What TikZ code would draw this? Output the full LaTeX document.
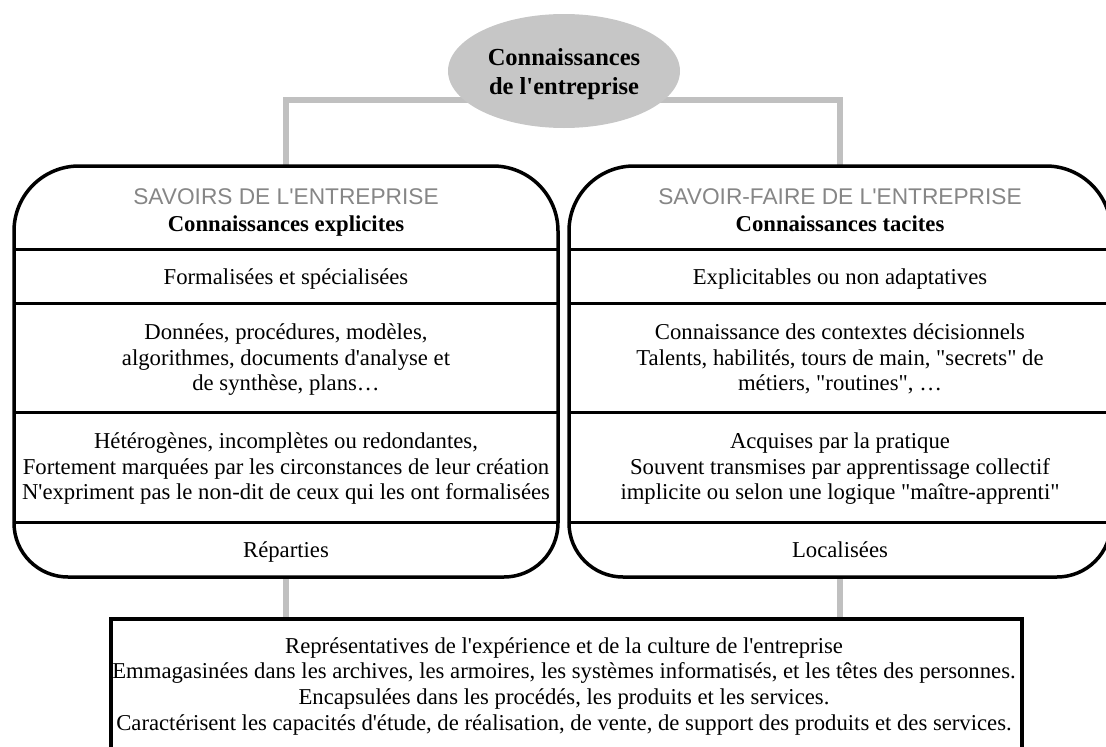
\documentclass[tikz,border=0pt]{standalone}
\usepackage{fontspec}
\setmainfont{Liberation Serif}
\newfontfamily\hdrfont{Liberation Sans}
\usetikzlibrary{shapes.geometric}
\definecolor{conn}{HTML}{C0C0C0}
\definecolor{ellfill}{HTML}{C6C6C6}
\definecolor{hdrgray}{HTML}{868686}
\newcommand\apo{\textquotesingle}
\newcommand\dqt{\textquotedbl}
\begin{document}
\begin{tikzpicture}[x=1pt,y=-1pt,
  boxline/.style={line width=3.5pt, black},
  divline/.style={line width=3pt, black},
  link/.style={line width=6pt, conn},
  txt/.style={inner sep=0pt, align=center, font=\fontsize{22.7}{25.7}\selectfont},
  hdr/.style={inner sep=0pt, font=\hdrfont\fontsize{22.7}{25.7}\selectfont, text=hdrgray},
  bold/.style={inner sep=0pt, font=\bfseries\fontsize{22.7}{25.7}\selectfont},
]
\useasboundingbox (0,0) rectangle (1106,747);

% coordinates
\coordinate (hub) at (564,100);
\coordinate (Ltop) at (286,166);
\coordinate (Rtop) at (840,166);
\coordinate (Lbot) at (286,577);
\coordinate (Rbot) at (840,577);

% bottom box
\node[draw, line width=3.5pt, minimum width=911pt, minimum height=150pt, inner sep=0pt, anchor=north west] (bbox) at (109,617) {};

% links
\draw[link] (Ltop) |- (hub) -| (Rtop);
\draw[link] (Lbot) -- (Lbot |- bbox.north);
\draw[link] (Rbot) -- (Rbot |- bbox.north);

% left box
\draw[boxline, rounded corners=65pt] (14,522) -- (14,166) -- (558,166) -- (558,522);
\draw[boxline, rounded corners=54pt] (14,522) -- (14,577) -- (558,577) -- (558,522);
\draw[divline] (14,249) -- (558,249);
\draw[divline] (14,303) -- (558,303);
\draw[divline] (14,412) -- (558,412);
\draw[divline] (14,522) -- (558,522);

% right box
\draw[boxline, rounded corners=65pt] (569,522) -- (569,166) -- (1111,166) -- (1111,522);
\draw[boxline, rounded corners=54pt] (569,522) -- (569,577) -- (1111,577) -- (1111,522);
\draw[divline] (569,249) -- (1111,249);
\draw[divline] (569,303) -- (1111,303);
\draw[divline] (569,412) -- (1111,412);
\draw[divline] (569,522) -- (1111,522);

% root
\node[ellipse, fill=ellfill, minimum width=232pt, minimum height=114pt, inner sep=0pt] (root) at (564,71) {};
\node[inner sep=0pt, align=center, font=\bfseries\fontsize{24.5}{29}\selectfont] (roottxt) at (564,74) {\strut Connaissances\\de l\apo entreprise\strut};

% left texts
\node[hdr] (lh) at (286,199) {\strut SAVOIRS DE L\apo ENTREPRISE};
\node[bold] (lb) at (286,226) {\strut Connaissances explicites};
\node[txt] (l1) at (286,279) {\strut Formalisées et spécialisées};
\node[txt] (l2) at (286,360) {\strut Données, procédures, modèles,\\algorithmes, documents d\apo analyse et\\de synthèse, plans…\strut};
\node[txt] (l3) at (286,469) {\strut Hétérogènes, incomplètes ou redondantes,\\Fortement marquées par les circonstances de leur création\\N\apo expriment pas le non-dit de ceux qui les ont formalisées\strut};
\node[txt] (l4) at (286,552) {\strut Réparties};

% right texts
\node[hdr] (rh) at (840,199) {\strut SAVOIR-FAIRE DE L\apo ENTREPRISE};
\node[bold] (rb) at (840,226) {\strut Connaissances tacites};
\node[txt] (r1) at (840,279) {\strut Explicitables ou non adaptatives};
\node[txt] (r2) at (840,360) {\strut Connaissance des contextes décisionnels\\Talents, habilités, tours de main, \dqt secrets\dqt{} de\\métiers, \dqt routines\dqt , …\strut};
\node[txt] (r3) at (840,469) {\strut Acquises par la pratique\\Souvent transmises par apprentissage collectif\\implicite ou selon une logique \dqt maître-apprenti\dqt\strut};
\node[txt] (r4) at (840,552) {\strut Localisées};

% bottom text
\node[txt] (bt) at (564,686.5) {\strut Représentatives de l\apo expérience et de la culture de l\apo entreprise\\Emmagasinées dans les archives, les armoires, les systèmes informatisés, et les têtes des personnes.\\Encapsulées dans les procédés, les produits et les services.\\Caractérisent les capacités d\apo étude, de réalisation, de vente, de support des produits et des services.\strut};
\end{tikzpicture}
\end{document}
